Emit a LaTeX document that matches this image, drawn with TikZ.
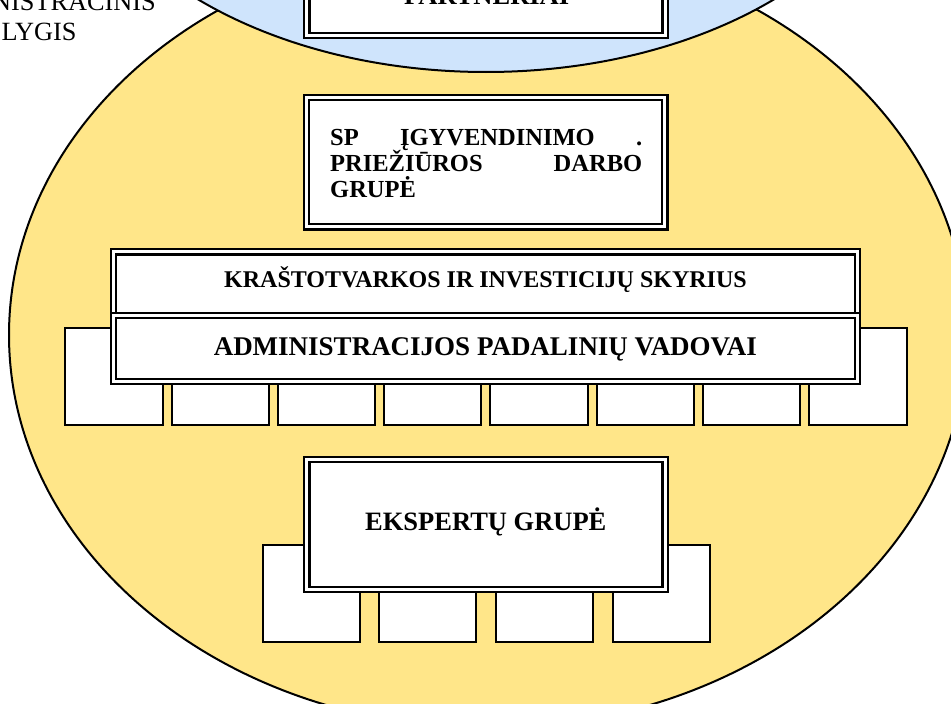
\documentclass[tikz,border=0pt]{standalone}
\usepackage{fontspec}
\setmainfont{Liberation Serif}
\definecolor{ylw}{RGB}{255,230,137}
\definecolor{blu}{RGB}{207,228,252}
\tikzset{
  dbox/.style={rectangle, draw=black, fill=white, double=white, line width=2.1pt,
    double distance=3.1pt, inner sep=0pt, outer sep=0pt},
  sbox/.style={rectangle, draw=black, fill=white, line width=2pt, inner sep=0pt,
    minimum width=97.3pt, minimum height=96.6pt},
  bigtxt/.style={font=\fontsize{26.5}{30}\selectfont\bfseries, inner sep=0pt, anchor=base},
  admtxt/.style={font=\fontsize{27}{30}\selectfont\bfseries, inner sep=0pt, anchor=base},
  midtxt/.style={font=\fontsize{24}{28}\selectfont\bfseries, inner sep=0pt, anchor=base},
  sptxt/.style={font=\fontsize{24.5}{26}\selectfont\bfseries, inner sep=0pt, anchor=base west},
  regtxt/.style={font=\fontsize{26.3}{30}\selectfont, inner sep=0pt, anchor=base},
  oval/.style={draw=black, line width=2pt}
}
\begin{document}
\begin{tikzpicture}[x=1pt,y=-1pt]
\useasboundingbox (0,0) rectangle (951,704);
\clip (0,0) rectangle (951,704);
% background ellipses
\filldraw[oval, fill=ylw] (488,335) ellipse [x radius=479pt, y radius=393pt];
\filldraw[oval, fill=blu] (486,-201) ellipse [x radius=424pt, y radius=273pt];
% small boxes behind department boxes
\foreach \i in {0,...,7}
  \node[sbox] (a\i) at ({113.85+106.3*\i},376.5) {};
% department boxes
\node[dbox, minimum width=744.1pt, minimum height=63.6pt] (kras) at (485.65,283.7) {};
\node[dbox, minimum width=744.1pt, minimum height=66.2pt] (adm) at (485.65,348.6) {};
% SP working group
\node[dbox, minimum width=358.3pt, minimum height=129.3pt] (sp) at (485.75,162.25) {};
% expert group
\foreach \j in {0,...,3}
  \node[sbox, minimum width=97pt, minimum height=96.5pt] (e\j) at ({311+116.7*\j},593.25) {};
\node[dbox, minimum width=358.2pt, minimum height=129.8pt] (eks) at (486,524.5) {};
% partners
\node[dbox, minimum width=358.2pt, minimum height=135.7pt] (part) at (486,-32.15) {};
% texts
\node[bigtxt] (tpart) at (486.7,5) {PARTNERIAI};
\node[midtxt] (tkras) at (485.5,287.7) {KRAŠTOTVARKOS IR INVESTICIJŲ SKYRIUS};
\node[admtxt] (tadm) at (485.3,355) {ADMINISTRACIJOS PADALINIŲ VADOVAI};
\node[bigtxt] (teks) at (485.8,530) {EKSPERTŲ GRUPĖ};
\node[sptxt] (sp1) at (330,145.7) {\makebox[312pt][l]{SP\hfill ĮGYVENDINIMO\hfill .}};
\node[sptxt] (sp2) at (330,171.7) {\makebox[312pt][l]{PRIEŽIŪROS\hfill DARBO}};
\node[sptxt] (sp3) at (330,197.3) {GRUPĖ};
\node[regtxt] (lv1) at (39,10) {ADMINISTRACINIS};
\node[regtxt] (lv2) at (39,40.7) {LYGIS};
\end{tikzpicture}
\end{document}
